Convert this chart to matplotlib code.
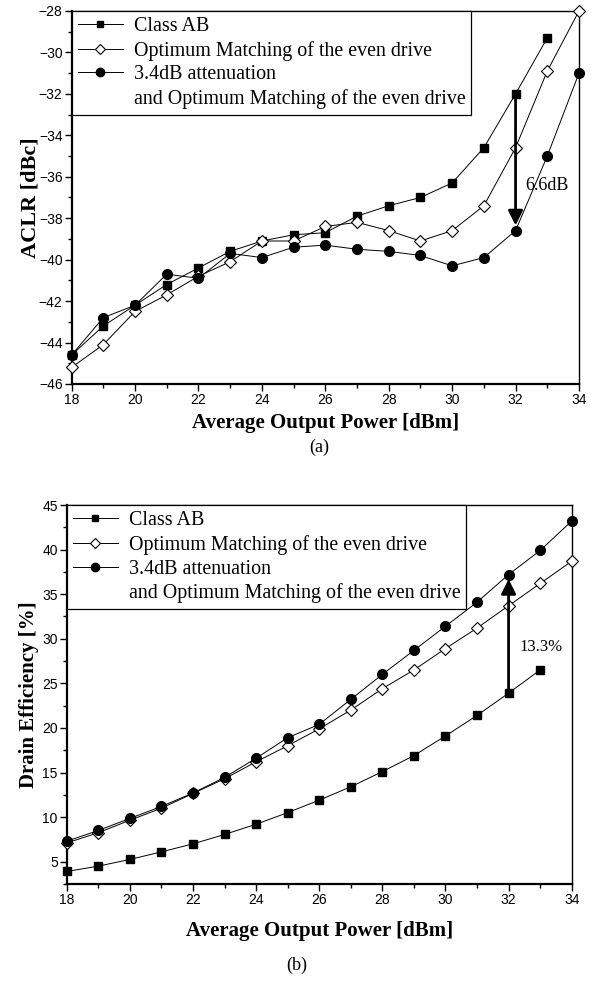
import matplotlib
matplotlib.use('Agg')
import matplotlib.pyplot as plt
from matplotlib.ticker import MultipleLocator
from matplotlib.lines import Line2D

# 输出功率 (dBm)
power = [18, 19, 20, 21, 22, 23, 24, 25, 26, 27, 28, 29, 30, 31, 32, 33, 34]
power_ab = power[:-1]

# (a) ACLR [dBc]
aclr_ab = [-44.6, -43.2, -42.2, -41.2, -40.4, -39.6, -39.1, -38.8, -38.7, -37.9,
           -37.4, -37.0, -36.3, -34.6, -32.0, -29.3]
aclr_opt = [-45.2, -44.1, -42.5, -41.7, -40.8, -40.1, -39.1, -39.1, -38.4, -38.2,
            -38.6, -39.1, -38.6, -37.4, -34.6, -30.9, -28.0]
aclr_att = [-44.6, -42.8, -42.2, -40.7, -40.9, -39.7, -39.9, -39.4, -39.3, -39.5,
            -39.6, -39.8, -40.3, -39.9, -38.6, -35.0, -31.0]

# (b) Drain Efficiency [%]
de_ab = [3.9, 4.5, 5.25, 6.1, 7.0, 8.05, 9.2, 10.5, 11.9, 13.4, 15.1, 16.9, 19.1,
         21.4, 23.9, 26.5]
de_opt = [7.1, 8.25, 9.65, 11.0, 12.65, 14.3, 16.2, 18.0, 19.9, 22.0, 24.4, 26.5,
          28.9, 31.2, 33.7, 36.2, 38.7]
de_att = [7.3, 8.5, 9.85, 11.2, 12.7, 14.45, 16.6, 18.9, 20.4, 23.2, 26.0, 28.7,
          31.4, 34.1, 37.2, 39.9, 43.2]

labels = ['Class AB', 'Optimum Matching of the even drive', '3.4dB attenuation',
          'and Optimum Matching of the even drive']

SERIF = 'Liberation Serif'
SANS = 'Liberation Sans'


def draw_panel(ax, ab, opt, att, xpad):
    ax.plot(power_ab, ab, color='black', lw=0.7, marker='s', ms=6,
            mfc='black', mec='black', clip_on=False, zorder=3)
    ax.plot(power, opt, color='black', lw=0.7, marker='D', ms=6,
            mfc='white', mec='black', mew=0.8, clip_on=False, zorder=4)
    ax.plot(power, att, color='black', lw=0.7, marker='o', ms=7,
            mfc='black', mec='black', clip_on=False, zorder=5)

    ax.set_xlim(18, 34)
    ax.xaxis.set_major_locator(MultipleLocator(2))
    ax.xaxis.set_minor_locator(MultipleLocator(1))
    ax.tick_params(which='both', direction='out', top=False, right=False,
                   labelsize=10, width=1, pad=1.5)
    ax.tick_params(which='major', length=5)
    ax.tick_params(which='minor', length=3)
    for lab in ax.get_xticklabels() + ax.get_yticklabels():
        lab.set_fontfamily(SANS)
    for side in ['left', 'bottom']:
        ax.spines[side].set_linewidth(1.6)
    for side in ['top', 'right']:
        ax.spines[side].set_linewidth(1.0)

    handles = [
        Line2D([], [], color='black', lw=0.7, marker='s', ms=5, mfc='black'),
        Line2D([], [], color='black', lw=0.7, marker='D', ms=5, mfc='white', mew=0.8),
        Line2D([], [], color='black', lw=0.7, marker='o', ms=6, mfc='black'),
        Line2D([], [], color='none'),
    ]
    leg = ax.legend(handles, labels, loc='upper left', borderaxespad=0,
                    fancybox=False, edgecolor='black', framealpha=1,
                    prop={'family': SERIF, 'size': 14.4}, handlelength=2.25,
                    handletextpad=0.55, labelspacing=0.24, borderpad=0.3)
    leg.get_frame().set_linewidth(0.9)
    ax.set_xlabel('Average Output Power [dBm]', family=SERIF, weight='bold',
                  fontsize=15, labelpad=xpad)


fig = plt.figure(figsize=(5.92, 9.81), dpi=100)

ax1 = fig.add_axes([0.121, 0.6086, 0.857, 0.3802])
draw_panel(ax1, aclr_ab, aclr_opt, aclr_att, 4)
ax1.set_ylim(-46, -28)
ax1.yaxis.set_major_locator(MultipleLocator(2))
ax1.yaxis.set_minor_locator(MultipleLocator(1))
ax1.set_ylabel('ACLR [dBc]', family=SERIF, weight='bold', fontsize=16, labelpad=-1)
ax1.annotate('', xy=(32, aclr_att[14] + 0.25), xytext=(32, aclr_ab[14]),
             arrowprops=dict(arrowstyle='-|>', lw=2, color='black',
                             mutation_scale=22, shrinkA=0, shrinkB=0), zorder=6)
ax1.text(32.3, -36.4, '6.6dB', family=SERIF, fontsize=13, va='center', ha='left')

ax2 = fig.add_axes([0.1127, 0.0989, 0.853, 0.3863])
draw_panel(ax2, de_ab, de_opt, de_att, 10)
ax2.set_ylim(2.5, 45)
ax2.yaxis.set_major_locator(MultipleLocator(5))
ax2.yaxis.set_minor_locator(MultipleLocator(2.5))
ax2.set_ylabel('Drain Efficiency [%]', family=SERIF, weight='bold', fontsize=15, labelpad=2)
ax2.annotate('', xy=(32, de_att[14] - 0.5), xytext=(32, de_ab[14]),
             arrowprops=dict(arrowstyle='-|>', lw=2, color='black',
                             mutation_scale=22, shrinkA=0, shrinkB=0), zorder=6)
ax2.text(32.35, 29.1, '13.3%', family=SERIF, fontsize=12, va='center', ha='left')

fig.text(0.54, 0.5443, '(a)', family=SERIF, fontsize=13, ha='center', va='center')
fig.text(0.502, 0.0163, '(b)', family=SERIF, fontsize=13, ha='center', va='center')

fig.savefig('out.png', dpi=100)
